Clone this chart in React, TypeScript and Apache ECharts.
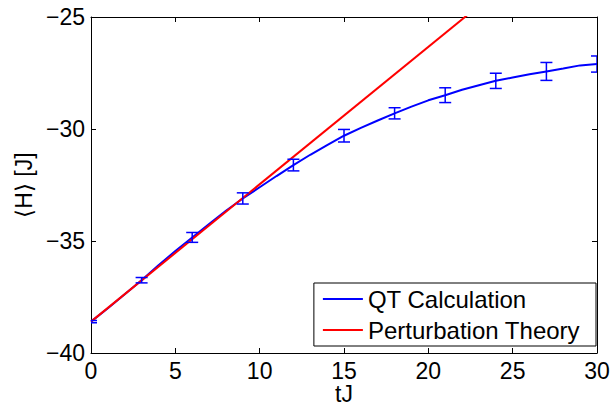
import React, { useEffect, useRef } from "react";
import * as echarts from "echarts";

// QT calculation curve (tJ, <H>)
const qtT = [0, 1, 2, 3, 4, 5, 6, 7, 8, 9, 10, 11, 12, 13, 14, 15, 16, 17, 18, 19, 20, 21, 22, 23, 24, 25, 26, 27, 28, 29, 30];
const qtH = [-38.6, -38.0, -37.38, -36.75, -36.08, -35.45, -34.84, -34.24, -33.65, -33.1, -32.6, -32.1, -31.61, -31.15, -30.72, -30.3, -29.95, -29.62, -29.3, -29.0, -28.72, -28.49, -28.25, -28.05, -27.85, -27.7, -27.56, -27.43, -27.3, -27.16, -27.1];

// Error bars
const errT = [0, 3, 6, 9, 12, 15, 18, 21, 24, 27, 30];
const errMean = [-38.6, -36.75, -34.84, -33.1, -31.61, -30.3, -29.3, -28.49, -27.85, -27.43, -27.1];
const errHalf = [0.05, 0.12, 0.22, 0.25, 0.26, 0.28, 0.25, 0.33, 0.34, 0.4, 0.36];

// Perturbation theory (straight line)
const ptT = [0, 30];
const ptH = [-38.6, -20.2];

const xTicks = [0, 5, 10, 15, 20, 25, 30];
const yTicks = [-40, -35, -30, -25];

const FONT = "'Liberation Sans', Arial, sans-serif";

export default function App() {
  const ref = useRef<HTMLDivElement>(null);
  useEffect(() => {
    if (!ref.current) return;
    const chart = echarts.init(ref.current, undefined, { renderer: "svg" });
    const fmt = (v: number) => (v < 0 ? "\u2212" + Math.abs(v) : String(v));
    const axisLine = { show: true, onZero: false, lineStyle: { color: "#000", width: 1 } };
    const tick = { show: true, inside: true, length: 5, lineStyle: { color: "#000", width: 1 } };
    const option: any = {
      animation: false,
      backgroundColor: "#fff",
      textStyle: { fontFamily: FONT },
      grid: { left: 91, right: 16, top: 17, bottom: 56, containLabel: false, outerBoundsMode: "none" },
      legend: {
        orient: "vertical",
        right: 17,
        top: 283,
        padding: [4, 16, 4, 9],
        itemGap: 7,
        itemWidth: 40,
        itemHeight: 2,
        backgroundColor: "#fff",
        borderColor: "#000",
        borderWidth: 1,
        borderRadius: 0,
        textStyle: { fontFamily: FONT, fontSize: 24, color: "#000", lineHeight: 24 },
        data: [
          { name: "QT Calculation", icon: "rect", itemStyle: { color: "#0000ff" } },
          { name: "Perturbation Theory", icon: "rect", itemStyle: { color: "#ff0000" } },
        ],
      },
      xAxis: [
        {
          type: "value",
          min: xTicks[0],
          max: xTicks[xTicks.length - 1],
          interval: 5,
          position: "bottom",
          name: "tJ",
          nameLocation: "middle",
          nameGap: 30,
          nameMoveOverlap: false,
          nameTextStyle: { fontFamily: FONT, fontSize: 23, color: "#000", verticalAlign: "top", lineHeight: 22 },
          axisLine,
          axisTick: tick,
          axisLabel: { fontFamily: FONT, fontSize: 23, color: "#000", margin: 9, lineHeight: 18, formatter: fmt },
          splitLine: { show: false },
        },
        {
          type: "value",
          min: xTicks[0],
          max: xTicks[xTicks.length - 1],
          interval: 5,
          position: "top",
          axisLine,
          axisTick: tick,
          axisLabel: { show: false },
          splitLine: { show: false },
        },
      ],
      yAxis: [
        {
          type: "value",
          min: yTicks[0],
          max: yTicks[yTicks.length - 1],
          interval: 5,
          position: "left",
          name: "\u27E8H\u27E9 [J]",
          nameLocation: "middle",
          nameRotate: 90,
          nameGap: 56,
          nameMoveOverlap: false,
          nameTextStyle: { fontFamily: FONT, fontSize: 23, color: "#000" },
          axisLine,
          axisTick: tick,
          axisLabel: { fontFamily: FONT, fontSize: 23, color: "#000", margin: 6, formatter: fmt },
          splitLine: { show: false },
        },
        {
          type: "value",
          min: yTicks[0],
          max: yTicks[yTicks.length - 1],
          interval: 5,
          position: "right",
          axisLine,
          axisTick: tick,
          axisLabel: { show: false },
          splitLine: { show: false },
        },
      ],
      series: [
        {
          name: "QT Calculation",
          type: "line",
          data: qtT.map((t, i) => [t, qtH[i]]),
          symbol: "none",
          smooth: false,
          lineStyle: { color: "#0000ff", width: 2 },
          itemStyle: { color: "#0000ff" },
          z: 2,
        },
        {
          name: "Perturbation Theory",
          type: "line",
          data: ptT.map((t, i) => [t, ptH[i]]),
          symbol: "none",
          clip: true,
          lineStyle: { color: "#ff0000", width: 2 },
          itemStyle: { color: "#ff0000" },
          z: 3,
        },
        {
          name: "errors",
          type: "custom",
          clip: true,
          z: 4,
          data: errT.map((t, i) => [t, errMean[i] - errHalf[i], errMean[i] + errHalf[i]]),
          renderItem: (params: any, api: any) => {
            const x = api.value(0);
            const lo = api.coord([x, api.value(1)]);
            const hi = api.coord([x, api.value(2)]);
            const w = 6;
            const style = { stroke: "#0000ff", lineWidth: 1.5 };
            return {
              type: "group",
              children: [
                { type: "line", shape: { x1: lo[0], y1: lo[1], x2: hi[0], y2: hi[1] }, style },
                { type: "line", shape: { x1: lo[0] - w, y1: lo[1], x2: lo[0] + w, y2: lo[1] }, style },
                { type: "line", shape: { x1: hi[0] - w, y1: hi[1], x2: hi[0] + w, y2: hi[1] }, style },
              ],
            };
          },
        },
      ],
    };
    chart.setOption(option);
    return () => chart.dispose();
  }, []);
  return (
    <div
      ref={ref}
      style={{ position: "absolute", left: 0, top: 0, width: 613, height: 409, background: "#fff" }}
    />
  );
}
